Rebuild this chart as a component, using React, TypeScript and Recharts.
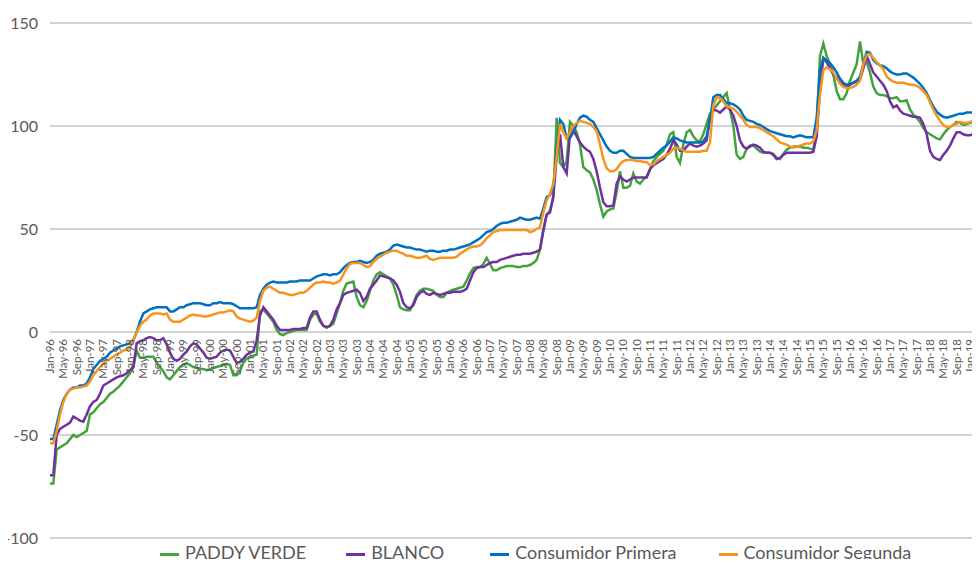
import React from 'react';
import { LineChart, Line, XAxis, YAxis, CartesianGrid } from 'recharts';

// Monthly index values, Jan-96 onwards (one row per year)
const paddyVerde = [
  -73.5, -73.5, -57, -56, -55, -54, -52, -50, -51, -50, -49, -48,
  -40, -39, -37, -35, -34, -32, -30, -29, -27.5, -26, -24, -22,
  -20, -17, -9, -12.5, -12.5, -12, -12, -12, -15, -17, -19, -22,
  -23, -21, -19, -17, -16, -15, -16, -17, -17.5, -18, -18, -18.5,
  -18, -17.5, -17, -16.5, -16, -15.5, -16, -21, -21, -19, -15, -13,
  -12, -11.5, -11, 10, 11, 9, 7, 5, 1, -1, -1.5, -0.5,
  0, 0.5, 1, 1, 1, 1, 6, 8.5, 9, 5, 3, 2,
  3, 4, 9, 14, 20, 23.5, 24, 24.5, 17, 13, 12, 15,
  20, 25, 28, 29, 28, 27, 26, 23, 18, 12, 11, 10.5,
  10.5, 14, 18, 20, 21, 21, 20.5, 20, 18, 17, 17, 19,
  20, 20.5, 21, 21.5, 22, 25, 28.5, 31, 31.5, 31.5, 33, 36,
  33, 30, 30, 31, 31.5, 32, 32, 32, 31.5, 31.5, 32, 32,
  32.5, 33.5, 35, 40, 50, 57, 59, 65, 104, 82, 80, 83,
  102, 100, 97, 91, 80, 78.5, 77.5, 74, 69, 62, 56, 58.5,
  59.5, 60, 68, 78, 70, 70, 71, 77, 73, 72, 74, 75.5,
  79, 83, 85, 86.5, 88, 91, 96, 97, 85, 82, 91, 97,
  98, 95, 93, 92.5, 96, 101, 106, 108, 110, 112, 114, 116,
  108, 100, 86, 84, 85, 89, 90.5, 90.5, 89, 87.5, 87, 87,
  87, 86.5, 84.5, 84, 86.5, 88.5, 89.5, 90, 90, 90, 89.5, 89.5,
  89, 88.5, 100, 134, 140, 134, 130, 125, 117, 113, 113, 116,
  122, 126, 130, 141, 130, 131, 126, 119, 116, 115, 115, 114.5,
  113.5, 113.5, 114, 112, 112, 112.5, 108, 105.5, 104, 102, 99, 97,
  96, 95, 94, 93.5, 96, 98, 99.5, 100.5, 102, 101.5, 100.5, 101,
  101.5, 102, 102.5, 103,
];

const blanco = [
  -69.5, -69.5, -50, -47, -46, -45, -44, -41, -42, -43, -43.5, -40,
  -36, -34, -33, -30, -26, -25, -24, -23, -22, -21.5, -21, -20,
  -18.5, -17, -5.5, -4.5, -4, -3, -2.5, -3, -4, -4, -3, -6,
  -10, -13, -14, -13, -11, -9.5, -7, -5.5, -6, -8, -10, -12.5,
  -13, -12.5, -12, -10, -9, -8.5, -9, -12, -15, -14.5, -13, -11,
  -10, -9.5, -4, 8, 12, 10, 8, 6, 3, 1, 1, 1,
  1, 1.5, 1.5, 1.5, 2, 2, 7, 10, 10, 6, 3, 2.5,
  3, 6, 11, 14, 18, 19, 19.5, 20, 20.5, 19, 15, 17,
  21, 23, 25, 27.5, 27, 26.5, 26, 25, 23, 19.5, 14, 12,
  11.5, 13, 17, 19, 20, 18.5, 18, 19, 18.5, 18, 18.5, 19,
  19, 19.5, 19.5, 19.5, 20, 21, 25, 29, 31, 31.5, 31.5, 32.5,
  33.5, 34, 34, 35, 35.5, 36, 36.5, 37, 37.5, 37.5, 38, 38,
  38, 38.5, 39, 40, 49, 57, 58, 66, 85, 96, 80, 77,
  96, 98, 95, 92, 90, 88.5, 87.5, 84, 78, 70, 63, 61,
  61, 61.5, 72, 75.5, 74, 73, 74, 75, 75, 75, 75, 75,
  79, 81, 82, 83, 84, 86, 89, 93, 91, 88, 88, 90,
  91.5, 90.5, 90, 90.5, 91.5, 93, 104, 108, 107.5, 106.5, 108, 109.5,
  108, 105, 100, 93, 90, 89, 90, 91, 90.5, 89.5, 87.5, 87,
  87, 86, 84, 84.5, 86, 87, 87, 87, 87, 87, 87, 87,
  87, 87.5, 95, 118, 133, 131, 128, 125, 123.5, 121, 120, 119.5,
  120, 121, 121.5, 122.5, 128, 134, 130, 126, 124, 122, 120, 117,
  112, 109, 110, 107.5, 106, 105.5, 105, 104.5, 104.5, 104, 101, 96,
  88, 85, 84, 83.5, 86, 88, 90.5, 94, 97, 97, 96, 95.5,
  95.5, 96, 96.5, 97.5,
];

const consumidorPrimera = [
  -52, -52, -45, -38, -33, -30, -28, -27, -27, -26, -26, -25,
  -22, -18, -16, -14, -13, -12, -10, -9, -8, -7, -6.5, -6,
  -5.5, -4, 0, 5, 9, 10, 11, 11.5, 12, 12, 12, 12,
  10, 10, 11, 12, 12, 13, 13.5, 14, 14, 14, 13.5, 13,
  13, 14, 14, 14.5, 14, 14, 14, 13.5, 12.5, 11.5, 11.5, 11.5,
  11.5, 11.5, 12, 18, 21, 23, 24, 24.5, 24, 24, 24, 24,
  24.5, 24.5, 24.5, 25, 25, 25, 25, 26, 27, 27.5, 28, 28,
  27.5, 28, 28, 29, 31, 32.5, 33.5, 34, 34, 34.5, 34, 33.5,
  34, 35, 37, 38, 38.5, 39, 40, 42, 42.5, 42, 41.5, 41,
  41, 40.5, 40, 40, 39.5, 39, 39.5, 39.5, 39, 39, 39.5, 39.5,
  40, 40, 40.5, 41, 41.5, 42, 42.5, 43.5, 44.5, 45.5, 47, 48.5,
  49, 50, 51.5, 52.5, 53, 53, 53.5, 54, 54.5, 55.5, 55, 54.5,
  54.5, 55, 55.5, 55, 60, 65.5, 66.5, 70, 88, 103, 101, 94,
  94, 97, 101, 104, 105, 104.5, 103, 102, 99, 96, 93, 90,
  88, 87, 87, 88, 88, 86.5, 85, 84.5, 84.5, 84.5, 84.5, 84.5,
  84.5, 85, 86.5, 88, 89.5, 90.5, 92.5, 94.5, 94, 93, 92.5, 92,
  92, 92, 92, 92, 92.5, 95, 103, 114, 115, 115, 113, 111,
  111, 110.5, 109.5, 108, 105, 103, 102.5, 102, 101, 100.5, 99.5, 98.5,
  97.5, 97, 96.5, 96, 95.5, 95, 95, 94.5, 95, 95.5, 95, 94.5,
  94.5, 94.5, 104, 127, 133, 132, 130.5, 128.5, 126, 123, 121, 120,
  120.5, 121, 122, 124, 130, 136, 135.5, 132, 130.5, 129.5, 129, 128,
  126.5, 125.5, 125, 125, 125.5, 125.5, 124.5, 123.5, 122, 120.5, 118.5, 116,
  112.5, 109.5, 107, 105.5, 104.5, 104, 104.5, 105, 105.5, 106, 106, 106.5,
  106.5, 106.5, 107, 107,
];

const consumidorSegunda = [
  -54, -54, -48, -40, -34, -30, -28, -27.5, -27, -27, -26.5, -26,
  -24, -21, -19, -17, -15.5, -14, -13, -12, -11, -10, -9, -8.5,
  -7.5, -4, 0, 3, 5, 6, 8, 9, 9, 9, 8.5, 9,
  6, 5, 5, 5, 6, 7, 8, 8.5, 8, 8, 7.5, 7.5,
  8, 8.5, 9, 9.5, 9.5, 10, 10.5, 10, 7.5, 6.5, 6, 5.5,
  5, 5.5, 7, 15, 20, 21.5, 22, 21, 20, 19, 19, 18.5,
  18, 18, 18.5, 19, 19, 20, 21.5, 23, 24, 24, 24.5, 24,
  24, 23.5, 24, 25, 28, 31, 33, 33.5, 33.5, 33.5, 32.5, 31.5,
  32, 34, 35.5, 36.5, 37.5, 38.5, 39, 39.5, 39.5, 38.5, 38, 37,
  37, 36.5, 36, 36, 36.5, 37, 35.5, 35, 35.5, 36, 36, 36,
  36, 36, 36.5, 38, 39, 40, 41, 41.5, 41.5, 42, 43.5, 45.5,
  47, 48.5, 49, 49.5, 49.5, 49.5, 49.5, 49.5, 49.5, 49.5, 49.5, 49.5,
  48.5, 49, 50, 51, 58, 64, 67, 72, 85, 101, 97, 94,
  97, 100, 101.5, 102.5, 102, 101.5, 101, 99.5, 97.5, 91, 84, 79.5,
  78, 78, 79, 81.5, 83, 83.5, 83.5, 83.5, 83, 83, 82.5, 82.5,
  81, 81.5, 83, 84, 85, 86, 87, 89, 89.5, 89, 88, 87.5,
  87.5, 87.5, 87.5, 87.5, 88, 88, 92, 110, 114, 113.5, 112, 109.5,
  109, 108.5, 107, 105, 103, 100.5, 99.5, 99.5, 99.5, 99, 98, 97,
  96, 95, 93.5, 92, 91.5, 91, 90, 89.5, 90, 90.5, 91, 91.5,
  91.5, 92.5, 98, 115, 127, 128.5, 127.5, 126, 123, 120.5, 119, 118.5,
  118.5, 119, 120, 122, 130, 134.5, 135, 133, 131, 129.5, 127.5, 124,
  122.5, 121.5, 121, 121, 121, 120.5, 120, 120, 119.5, 118.5, 117, 115,
  111.5, 108, 105, 102.5, 100.5, 99.5, 99.5, 100.5, 101, 102, 101.5, 101.5,
  102, 102.5, 103, 103,
];

const MONTH_NAMES = ['Jan', 'Feb', 'Mar', 'Apr', 'May', 'Jun', 'Jul', 'Aug', 'Sep', 'Oct', 'Nov', 'Dec'];
const START_YEAR = 1996;
const Y_TICKS = [-100, -50, 0, 50, 100, 150];

const months = paddyVerde.map((_, i) => {
  const yy = String((START_YEAR + Math.floor(i / 12)) % 100).padStart(2, '0');
  return `${MONTH_NAMES[i % 12]}-${yy}`;
});

const series = [
  { key: 'paddyVerde', name: 'PADDY VERDE', color: '#43A33B', values: paddyVerde },
  { key: 'blanco', name: 'BLANCO', color: '#7030A0', values: blanco },
  { key: 'consumidorPrimera', name: 'Consumidor Primera', color: '#0070C0', values: consumidorPrimera },
  { key: 'consumidorSegunda', name: 'Consumidor Segunda', color: '#F7941E', values: consumidorSegunda },
];

const chartData = months.map((month, i) => {
  const row: any = { month };
  series.forEach((s) => {
    row[s.key] = s.values[i];
  });
  return row;
});

const WIDTH = 980;
const HEIGHT = 567;
const MARGIN = { top: 23, right: 0, bottom: 28, left: 0 };
const X_AXIS_HEIGHT = 1;
const Y_MIN = -100;
const Y_MAX = 150;
const FONT = 'Lato, "Open Sans", sans-serif';
const TEXT_COLOR = '#595959';
const LEGEND_GAPS = [40, 46, 42, 0];

// x labels hang below the zero line rather than at the bottom of the plot
const plotHeight = HEIGHT - MARGIN.top - MARGIN.bottom - X_AXIS_HEIGHT;
const zeroY = MARGIN.top + (plotHeight * Y_MAX) / (Y_MAX - Y_MIN);

const MonthTick = ({ x, payload }: any) => {
  const y = zeroY + 7;
  return (
    <text
      x={x}
      y={y}
      transform={`rotate(-90, ${x}, ${y})`}
      textAnchor="end"
      dy="0.35em"
      fontSize={11.5}
      fontFamily={FONT}
      fill={TEXT_COLOR}
    >
      {payload.value}
    </text>
  );
};

const ChartLegend = () => (
  <div
    style={{
      position: 'absolute',
      top: 543,
      left: 160,
      display: 'flex',
      alignItems: 'center',
      fontFamily: FONT,
      fontSize: 18,
      lineHeight: '18px',
      color: TEXT_COLOR,
      whiteSpace: 'nowrap',
    }}
  >
    {series.map((s, i) => (
      <div key={s.key} style={{ display: 'flex', alignItems: 'center', marginRight: LEGEND_GAPS[i] }}>
        <span style={{ display: 'inline-block', width: 19, height: 3, background: s.color, marginRight: 6, marginTop: 5 }} />
        <span>{s.name}</span>
      </div>
    ))}
  </div>
);

export default function App() {
  return (
    <div style={{ position: 'relative', width: WIDTH, height: HEIGHT, margin: -8, background: '#fff', overflow: 'hidden' }}>
      <LineChart width={WIDTH} height={HEIGHT} data={chartData} margin={MARGIN}>
        <CartesianGrid vertical={false} stroke="#a6a6a6" strokeWidth={1} />
        <XAxis
          dataKey="month"
          interval={3}
          height={X_AXIS_HEIGHT}
          axisLine={false}
          tickLine={false}
          tick={<MonthTick />}
        />
        <YAxis
          domain={[Y_MIN, Y_MAX]}
          ticks={Y_TICKS}
          width={50}
          axisLine={false}
          tickLine={false}
          tickSize={0}
          tickMargin={12}
          tick={{ fill: TEXT_COLOR, fontSize: 16, fontFamily: FONT }}
        />
        {series.map((s) => (
          <Line
            key={s.key}
            type="linear"
            dataKey={s.key}
            name={s.name}
            stroke={s.color}
            strokeWidth={2.5}
            dot={false}
            isAnimationActive={false}
          />
        ))}
      </LineChart>
      <ChartLegend />
    </div>
  );
}
